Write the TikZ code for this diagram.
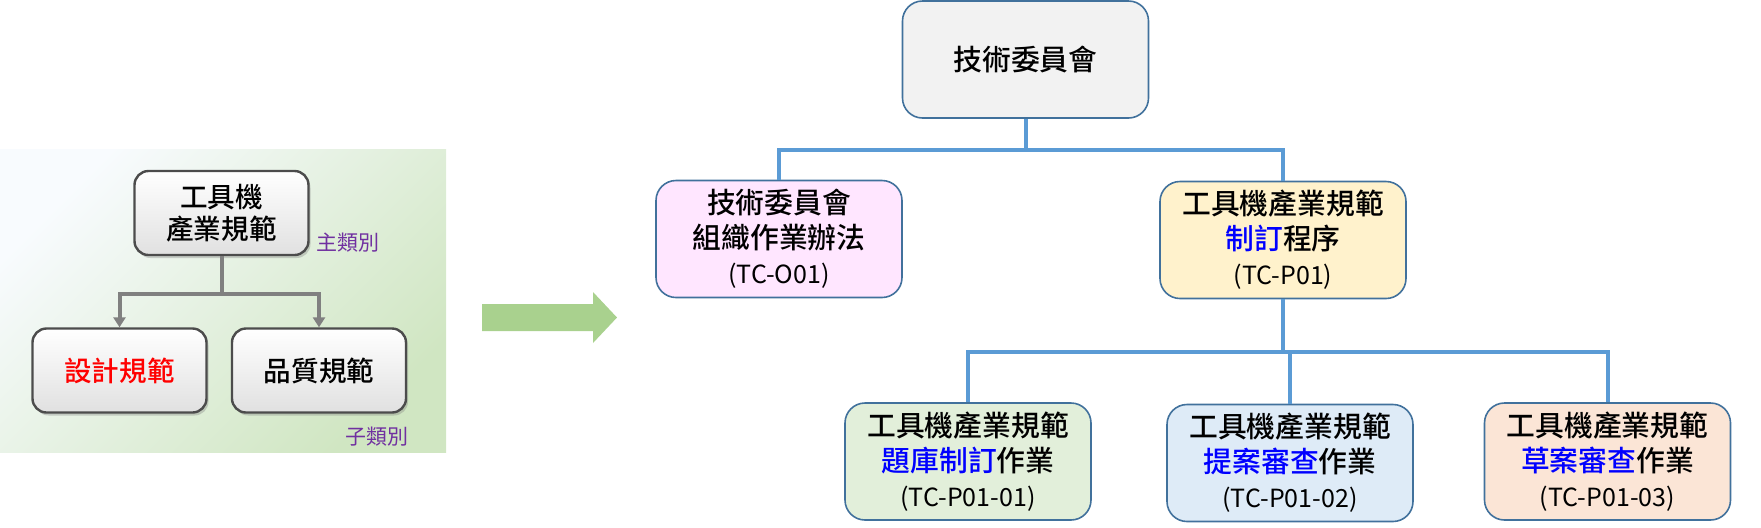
\documentclass[tikz,border=0pt]{standalone}
\usepackage{fontspec}
\setmainfont{Noto Sans CJK TC}[BoldFont={Noto Sans CJK TC Medium}]
\usetikzlibrary{arrows.meta,shadows}
\definecolor{boxline}{HTML}{41719C}
\definecolor{linkblue}{HTML}{5B9BD5}
\definecolor{textblue}{HTML}{0000FF}
\definecolor{catpurple}{HTML}{7030A0}
\definecolor{arrowgreen}{HTML}{A9D18E}
\definecolor{fillgray}{HTML}{F2F2F2}
\definecolor{fillpink}{HTML}{FFE6FF}
\definecolor{fillyellow}{HTML}{FFF2CC}
\definecolor{fillgreen}{HTML}{E2EFDA}
\definecolor{fillblue}{HTML}{DEEBF7}
\definecolor{fillorange}{HTML}{FBE5D6}
\definecolor{panellight}{HTML}{F8FBFE}
\definecolor{panelgreen}{HTML}{D0E6C2}
\tikzset{
  docbox/.style={draw=boxline, line width=0.8pt, rounded corners=10pt,
    minimum width=123pt, minimum height=58.5pt, align=center, inner sep=2pt,
    font=\fontsize{14.4}{17.5}\selectfont\bfseries},
  catbox/.style={draw=black!70, line width=1.2pt, rounded corners=7pt,
    top color=white, bottom color=black!12,
    drop shadow={shadow xshift=1pt, shadow yshift=-1.5pt, opacity=0.35},
    minimum width=87pt, minimum height=42pt, align=center, inner sep=2pt,
    font=\fontsize{13.8}{16}\selectfont\bfseries},
  catlabel/.style={text=catpurple, font=\fontsize{10.5}{12}\selectfont},
  treelink/.style={linkblue, line width=2pt},
  catlink/.style={black!50, line width=2pt, -{Triangle[width=6pt,length=5pt]}},
}
\newcommand{\tccode}[1]{{\fontsize{12.5}{15}\selectfont\mdseries #1}}
\newcommand{\hl}[1]{\textcolor{textblue}{#1}}
\begin{document}
\begin{tikzpicture}[x=0.5pt, y=-0.5pt]
  \useasboundingbox (0,0) rectangle (1761,527);
  % left panel: main and sub categories
  \shade [top color=panellight, bottom color=panelgreen, shading angle=45] %
        (0,149) rectangle (446,452);
  \node [catbox] (spec) at (221.5,213) {工具機\\產業規範};
  \node [catbox, text=red] (design) at (119.5,370.5) {設計規範};
  \node [catbox] (quality) at (319,370.5) {品質規範};
  \node [catlabel] (mainlbl) at (348,243) {主類別};
  \node [catlabel] (sublbl) at (377,437) {子類別};
  \draw [catlink] (spec.south) -- ++(0,38) -| (design.north);
  \draw [catlink] (spec.south) -- ++(0,38) -| (quality.north);
  % big arrow
  \fill [arrowgreen] (482,304) -- (593,304) -- (593,292) -- (617,317.5) %
        -- (593,343) -- (593,331) -- (482,331) -- cycle;
  % committee tree
  \node [docbox, fill=fillgray] (tcom) at (1025.5,59.5) {技術委員會};
  \node [docbox, fill=fillpink] (org) at (779,239) %
        {技術委員會\\組織作業辦法\\\tccode{(TC-O01)}};
  \node [docbox, fill=fillyellow] (proc) at (1283,240) %
        {工具機產業規範\\\hl{制訂}程序\\\tccode{(TC-P01)}};
  \node [docbox, fill=fillgreen] (bank) at (968,461.5) %
        {工具機產業規範\\\hl{題庫制訂}作業\\\tccode{(TC-P01-01)}};
  \node [docbox, fill=fillblue] (review) at (1290,463) %
        {工具機產業規範\\\hl{提案審查}作業\\\tccode{(TC-P01-02)}};
  \node [docbox, fill=fillorange] (draft) at (1607.5,461.5) %
        {工具機產業規範\\\hl{草案審查}作業\\\tccode{(TC-P01-03)}};
  \draw [treelink] (tcom.south) -- ++(0,31) -| (org.north);
  \draw [treelink] (tcom.south) -- ++(0,31) -| (proc.north);
  \draw [treelink] (proc.south) -- ++(0,53) -| (bank.north);
  \draw [treelink] (proc.south) -- ++(0,53) -| (review.north);
  \draw [treelink] (proc.south) -- ++(0,53) -| (draft.north);
\end{tikzpicture}
\end{document}
